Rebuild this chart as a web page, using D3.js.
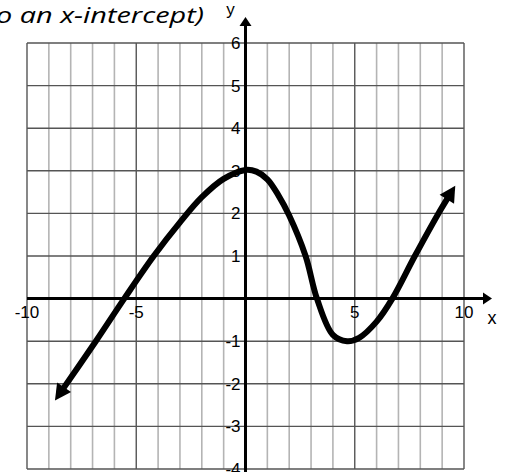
<!DOCTYPE html>
<html>
<head>
<meta charset="utf-8">
<script src="https://cdn.jsdelivr.net/npm/d3@7"></script>
<style>
  html, body { margin: 0; padding: 0; background: #fff; }
  svg { display: block; }
</style>
</head>
<body>
<svg id="chart" width="506" height="472"></svg>
<script>
// ---- data ----
const titleText = "o an x-intercept)";
const xTicks = [-10, -5, 5, 10];
const yTicks = [6, 5, 4, 3, 2, 1, -1, -2, -3, -4];
const gridX = d3.range(-10, 11);
const gridY = d3.range(-4, 7);
const curveX = [-8.72, -6.85, -5.55, -4.2, -3, -2, -1, 0, 0.5, 1, 1.5, 2, 2.75, 3.27, 4, 4.65, 5.2, 6, 6.72, 7.75, 8.83, 9.6];
const curveY = [-2.39, -1, 0, 1, 1.79, 2.38, 2.81, 3.02, 2.98, 2.8, 2.43, 1.95, 1, 0, -0.85, -1, -0.92, -0.54, 0, 1, 2, 2.65];

// ---- layout ----
const svg = d3.select("#chart");
const x = d3.scaleLinear().domain([-10, 10]).range([27, 464]);
const y = d3.scaleLinear().domain([-4, 6]).range([469, 43]);

// title (partially cut off at left)
svg.append("text")
  .attr("x", -4).attr("y", 23)
  .attr("font-family", "'Open Sans', Lato, sans-serif")
  .attr("font-style", "italic")
  .attr("font-size", 21)
  .attr("textLength", 208)
  .attr("lengthAdjust", "spacingAndGlyphs")
  .attr("fill", "#000")
  .text(titleText);

// grid
const g = svg.append("g");
g.selectAll("line.vx").data(gridX).join("line")
  .attr("x1", d => x(d)).attr("x2", d => x(d))
  .attr("y1", y(-4)).attr("y2", y(6))
  .attr("stroke", d => d % 5 === 0 ? "#555" : "#b4b4b4")
  .attr("stroke-width", d => d % 5 === 0 ? 1.4 : 1.6);
g.selectAll("line.hy").data(gridY).join("line")
  .attr("x1", x(-10)).attr("x2", x(10))
  .attr("y1", d => y(d)).attr("y2", d => y(d))
  .attr("stroke", "#555")
  .attr("stroke-width", 1.4);

// tick labels
const font = "'Liberation Sans', Arial, sans-serif";
svg.selectAll("text.yl").data(yTicks).join("text")
  .attr("x", x(0) - 5).attr("y", d => y(d) + 6)
  .attr("text-anchor", "end")
  .attr("font-family", font).attr("font-size", 17)
  .text(d => d);
svg.selectAll("text.xl").data(xTicks).join("text")
  .attr("x", d => x(d)).attr("y", y(0) + 19.5)
  .attr("text-anchor", "middle")
  .attr("font-family", font).attr("font-size", 17)
  .text(d => d);

// axes
const axTipX = x(10) + 28, axTipY = y(6) - 26;
svg.append("line").attr("x1", x(-10)).attr("x2", axTipX - 8)
  .attr("y1", y(0)).attr("y2", y(0)).attr("stroke", "#000").attr("stroke-width", 3);
svg.append("path")
  .attr("d", `M${axTipX},${y(0)} L${axTipX - 9},${y(0) - 6} L${axTipX - 9},${y(0) + 6} Z`)
  .attr("fill", "#000");
svg.append("line").attr("x1", x(0)).attr("x2", x(0))
  .attr("y1", 472).attr("y2", axTipY + 7).attr("stroke", "#000").attr("stroke-width", 3);
svg.append("path")
  .attr("d", `M${x(0)},${axTipY} L${x(0) - 6},${axTipY + 9} L${x(0) + 6},${axTipY + 9} Z`)
  .attr("fill", "#000");

svg.append("text").attr("x", axTipX).attr("y", y(0) + 25)
  .attr("text-anchor", "middle").attr("font-family", font).attr("font-size", 18).text("x");
svg.append("text").attr("x", x(0) - 15).attr("y", 15)
  .attr("text-anchor", "middle").attr("font-family", font).attr("font-size", 17).text("y");

// curve
const pts = curveX.map((v, i) => [v, curveY[i]]);
const lineGen = d3.line().x(d => x(d[0])).y(d => y(d[1])).curve(d3.curveCatmullRom.alpha(0.5));
const path = svg.append("path")
  .attr("d", lineGen(pts))
  .attr("fill", "none").attr("stroke", "#000").attr("stroke-width", 6)
  .attr("stroke-linejoin", "round");
const node = path.node();
const L = node.getTotalLength();
const trim = 9;
path.attr("stroke-dasharray", `0 ${trim} ${L - 2 * trim} ${trim + 10}`);

function arrowHead(atLen, backLen) {
  const tip = node.getPointAtLength(atLen);
  const back = node.getPointAtLength(backLen);
  const dx = tip.x - back.x, dy = tip.y - back.y;
  const n = Math.hypot(dx, dy);
  const ux = dx / n, uy = dy / n;
  const hl = 16, hw = 8.5;
  const bx = tip.x - ux * hl, by = tip.y - uy * hl;
  svg.append("path")
    .attr("d", `M${tip.x},${tip.y} L${bx - uy * hw},${by + ux * hw} L${bx + uy * hw},${by - ux * hw} Z`)
    .attr("fill", "#000");
}
arrowHead(0, 6);
arrowHead(L, L - 6);
</script>
</body>
</html>
